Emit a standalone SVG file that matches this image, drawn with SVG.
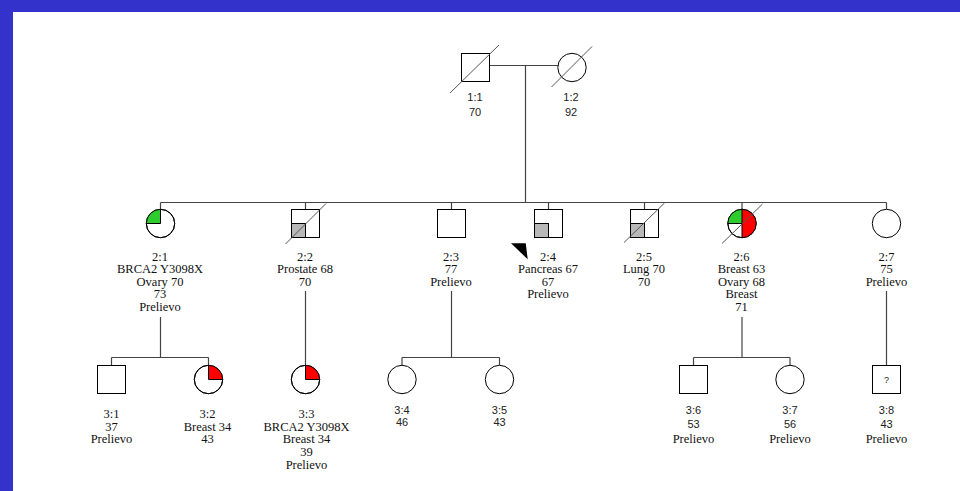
<svg xmlns="http://www.w3.org/2000/svg" width="960" height="491" viewBox="0 0 960 491">
<style>
.shape{fill:#fff;stroke:#000;stroke-width:1}
.div{fill:none;stroke:#000;stroke-width:1}
.slash{stroke:#555;stroke-width:1}
.conn{fill:none;stroke:#444;stroke-width:1.2}
.t{font-family:"Liberation Serif","Times New Roman",serif;font-size:12.5px;fill:#111;text-anchor:middle}
.s{font-family:"Liberation Sans",Arial,sans-serif;font-size:11px;fill:#222;text-anchor:middle}
.green{fill:#2ecc2e}
.red{fill:#ff0000}
.gray{fill:#b8b8b8;stroke:#000;stroke-width:1}
</style>
<rect x="0" y="0" width="960" height="491" fill="#3333cc"/>
<rect x="13" y="12" width="947" height="479" fill="#fff"/>

<g id="connectors">
<path class="conn" d="M489.5,65.5 H558"/>
<path class="conn" d="M525.5,65.5 V202.5"/>
<path class="conn" d="M160.5,202.5 H886.5"/>
<path class="conn" d="M160.5,202.5 V209.3 M305.5,202.5 V209.5 M451.5,202.5 V209.5 M548.5,202.5 V209.5 M644.5,202.5 V209.5 M742,202.5 V209.3 M886.5,202.5 V209.3"/>
<path class="conn" d="M160.5,317 V357.5 M111.5,357.5 H208.5 M111.5,357.5 V365.5 M208.5,357.5 V365.3"/>
<path class="conn" d="M305.5,291 V365.3"/>
<path class="conn" d="M451.5,291 V357.5 M402,357.5 H499.5 M402,357.5 V365.3 M499.5,357.5 V365.3"/>
<path class="conn" d="M742,317 V357.5 M693.5,357.5 H790 M693.5,357.5 V365.5 M790,357.5 V365.3"/>
<path class="conn" d="M886.5,291 V365.5"/>
</g>

<g id="n1-1">
<rect class="shape" x="461.5" y="53.5" width="28" height="28"/>
<line class="slash" x1="450" y1="93" x2="499" y2="45"/>
<text class="s" x="475" y="101">1:1</text>
<text class="s" x="475" y="115.5">70</text>
</g>
<g id="n1-2">
<circle class="shape" cx="572" cy="67.5" r="14.2"/>
<line class="slash" x1="551.5" y1="87" x2="592" y2="46.5"/>
<text class="s" x="571" y="101">1:2</text>
<text class="s" x="571" y="115.5">92</text>
</g>

<g id="n2-1">
<circle class="shape" cx="160.5" cy="223.5" r="14.2"/>
<path class="green" d="M160.5,223.5 L146.3,223.5 A14.2,14.2 0 0 1 160.5,209.3 Z"/>
<path class="div" d="M146.3,223.5 H160.5 V209.3"/>
<circle class="div" cx="160.5" cy="223.5" r="14.2"/>
<text class="t" x="160" y="260.5">2:1</text>
<text class="t" x="160" y="273">BRCA2 Y3098X</text>
<text class="t" x="160" y="285.5">Ovary 70</text>
<text class="t" x="160" y="298">73</text>
<text class="t" x="160" y="310.5">Prelievo</text>
</g>
<g id="n2-2">
<rect class="shape" x="291.5" y="209.5" width="28" height="28"/>
<rect class="gray" x="291.5" y="223.5" width="14" height="14"/>
<line class="slash" x1="285.5" y1="244" x2="326" y2="203.5"/>
<text class="t" x="305" y="260.5">2:2</text>
<text class="t" x="305" y="273">Prostate 68</text>
<text class="t" x="305" y="285.5">70</text>
</g>
<g id="n2-3">
<rect class="shape" x="437.5" y="209.5" width="28" height="28"/>
<text class="t" x="451" y="260.5">2:3</text>
<text class="t" x="451" y="273">77</text>
<text class="t" x="451" y="285.5">Prelievo</text>
</g>
<g id="n2-4">
<rect class="shape" x="534.5" y="209.5" width="28" height="28"/>
<rect class="gray" x="534.5" y="223.5" width="14" height="14"/>
<polygon points="511,243.3 525.7,243.3 527.7,259.3" fill="#000"/>
<text class="t" x="548" y="260.5">2:4</text>
<text class="t" x="548" y="273">Pancreas 67</text>
<text class="t" x="548" y="285.5">67</text>
<text class="t" x="548" y="298">Prelievo</text>
</g>
<g id="n2-5">
<rect class="shape" x="630.5" y="209.5" width="28" height="28"/>
<rect class="gray" x="630.5" y="223.5" width="14" height="14"/>
<line class="slash" x1="624" y1="242.5" x2="664.5" y2="203"/>
<text class="t" x="644" y="260.5">2:5</text>
<text class="t" x="644" y="273">Lung 70</text>
<text class="t" x="644" y="285.5">70</text>
</g>
<g id="n2-6">
<circle class="shape" cx="742" cy="223.5" r="14.2"/>
<path class="green" d="M742,223.5 L727.8,223.5 A14.2,14.2 0 0 1 742,209.3 Z"/>
<path class="red" d="M742,209.3 A14.2,14.2 0 0 1 742,237.7 Z"/>
<path class="div" d="M727.8,223.5 H742 M742,209.3 V237.7"/>
<circle class="div" cx="742" cy="223.5" r="14.2"/>
<line class="slash" x1="722" y1="243.5" x2="762.5" y2="204"/>
<text class="t" x="741.5" y="260.5">2:6</text>
<text class="t" x="741.5" y="273">Breast 63</text>
<text class="t" x="741.5" y="285.5">Ovary 68</text>
<text class="t" x="741.5" y="298">Breast</text>
<text class="t" x="741.5" y="310.5">71</text>
</g>
<g id="n2-7">
<circle class="shape" cx="886.5" cy="223.5" r="14.2"/>
<text class="t" x="886.5" y="260.5">2:7</text>
<text class="t" x="886.5" y="273">75</text>
<text class="t" x="886.5" y="285.5">Prelievo</text>
</g>

<g id="n3-1">
<rect class="shape" x="97.5" y="365.5" width="28" height="28"/>
<text class="t" x="111.5" y="418">3:1</text>
<text class="t" x="111.5" y="430.5">37</text>
<text class="t" x="111.5" y="443">Prelievo</text>
</g>
<g id="n3-2">
<circle class="shape" cx="208.5" cy="379.5" r="14.2"/>
<path class="red" d="M208.5,379.5 L208.5,365.3 A14.2,14.2 0 0 1 222.7,379.5 Z"/>
<path class="div" d="M208.5,365.3 V379.5 H222.7"/>
<circle class="div" cx="208.5" cy="379.5" r="14.2"/>
<text class="t" x="207.5" y="418">3:2</text>
<text class="t" x="207.5" y="430.5">Breast 34</text>
<text class="t" x="207.5" y="443">43</text>
</g>
<g id="n3-3">
<circle class="shape" cx="305.5" cy="379.5" r="14.2"/>
<path class="red" d="M305.5,379.5 L305.5,365.3 A14.2,14.2 0 0 1 319.7,379.5 Z"/>
<path class="div" d="M305.5,365.3 V379.5 H319.7"/>
<circle class="div" cx="305.5" cy="379.5" r="14.2"/>
<text class="t" x="306.5" y="418">3:3</text>
<text class="t" x="306.5" y="430.5">BRCA2 Y3098X</text>
<text class="t" x="306.5" y="443">Breast 34</text>
<text class="t" x="306.5" y="456">39</text>
<text class="t" x="306.5" y="469">Prelievo</text>
</g>
<g id="n3-4">
<circle class="shape" cx="402" cy="379.5" r="14.2"/>
<text class="s" x="402" y="414">3:4</text>
<text class="s" x="402" y="426">46</text>
</g>
<g id="n3-5">
<circle class="shape" cx="499.5" cy="379.5" r="14.2"/>
<text class="s" x="499.5" y="414">3:5</text>
<text class="s" x="499.5" y="426">43</text>
</g>
<g id="n3-6">
<rect class="shape" x="679.5" y="365.5" width="28" height="28"/>
<text class="s" x="693.5" y="414">3:6</text>
<text class="s" x="693.5" y="428">53</text>
<text class="t" x="693.5" y="442.5">Prelievo</text>
</g>
<g id="n3-7">
<circle class="shape" cx="790" cy="379.5" r="14.2"/>
<text class="s" x="790" y="414">3:7</text>
<text class="s" x="790" y="428">56</text>
<text class="t" x="790" y="442.5">Prelievo</text>
</g>
<g id="n3-8">
<rect class="shape" x="872.5" y="365.5" width="28" height="28"/>
<text class="s" x="886.5" y="383" style="font-size:9px">?</text>
<text class="s" x="886.5" y="414">3:8</text>
<text class="s" x="886.5" y="428">43</text>
<text class="t" x="886.5" y="442.5">Prelievo</text>
</g>
</svg>
